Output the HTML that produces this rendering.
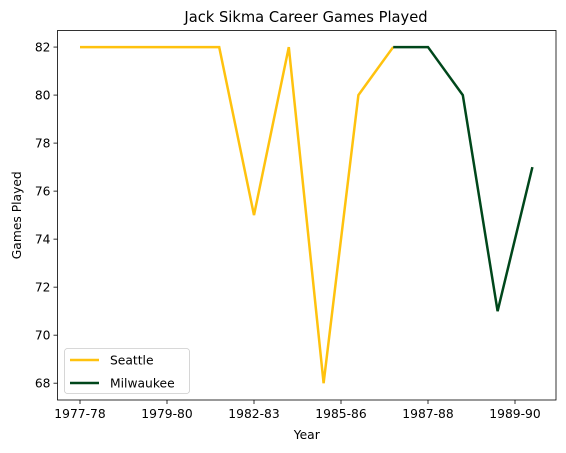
<!DOCTYPE html>
<html><head><meta charset="utf-8"><style>
body{margin:0;background:#fff}
svg{display:block;font-family:"DejaVu Sans","Liberation Sans",sans-serif}
</style></head><body>
<svg id="chart" width="566" height="453">
<text x="306" y="22" font-size="14.7" text-anchor="middle" fill="#000">Jack Sikma Career Games Played</text>
<g id="plot"></g>
</svg>
<script>
const seattleIdx = [0,1,2,3,4,5,6,7,8,9];
const seattleGames = [82,82,82,82,82,75,82,68,80,82];
const milwaukeeIdx = [9,10,11,12,13];
const milwaukeeGames = [82,82,80,71,77];
const xTickPos = [0,2.5,5,7.5,10,12.5];
const xTickLabels = ["1977-78","1979-80","1982-83","1985-86","1987-88","1989-90"];
const yTicks = [68,70,72,74,76,78,80,82];

const L=57.5,R=556,T=30.5,B=400;
const x=i=>80+34.8*i;
const y=v=>B-(v-67.3)/(82.69-67.3)*(B-T);
const NS="http://www.w3.org/2000/svg";
const g=document.getElementById('plot');
function mk(tag,attrs,parent){const e=document.createElementNS(NS,tag);for(const k in attrs)e.setAttribute(k,attrs[k]);(parent||g).appendChild(e);return e;}

yTicks.forEach(v=>{
  const t=mk('line',{x1:L-4,x2:L,y1:y(v),y2:y(v),stroke:'#000','stroke-width':0.8});
  
  
  const l=mk('text',{x:L-7,y:y(v)+4.3,'font-size':12.3,'text-anchor':'end'});
  l.textContent=v;
  
  
});
xTickPos.forEach((p,i)=>{
  const t=mk('line',{x1:x(p),x2:x(p),y1:B,y2:B+4,stroke:'#000','stroke-width':0.8});
  
  
  const l=mk('text',{x:x(p),y:B+18,'font-size':12.3,'text-anchor':'middle'});
  l.textContent=xTickLabels[i];
  
  
});
function line(idx,vals,color,name){
  const p=mk('polyline',{points:idx.map((d,i)=>x(d)+','+y(vals[i])).join(' '),fill:'none',stroke:color,'stroke-width':2.5,'stroke-linejoin':'miter'});
  
  
}
line(seattleIdx,seattleGames,'#FFC20E','seattle-line');
line(milwaukeeIdx,milwaukeeGames,'#00471B','milwaukee-line');

const frame=mk('rect',{x:L,y:T,width:R-L,height:B-T,fill:'none',stroke:'#000','stroke-width':0.8});



const xt=mk('text',{x:(L+R)/2,y:439,'font-size':12.3,'text-anchor':'middle'});
xt.textContent='Year';


const yt=mk('text',{x:0,y:0,'font-size':12.3,'text-anchor':'middle',transform:'translate(21,'+((T+B)/2)+') rotate(-90)'});
yt.textContent='Games Played';



const lg=mk('g',{});


mk('rect',{x:64.5,y:348.5,width:125,height:45,rx:3,fill:'#fff',stroke:'#ccc','stroke-width':0.8},lg);
[['Seattle','#FFC20E',360],['Milwaukee','#00471B',383]].forEach(([n,c,yy])=>{
  const e=mk('line',{x1:70,x2:99,y1:yy,y2:yy,stroke:c,'stroke-width':2.5},lg);
  
  
  const t=mk('text',{x:110,y:yy+4.3,'font-size':12.3},lg);
  t.textContent=n;
  
  
});
</script>
</body></html>
